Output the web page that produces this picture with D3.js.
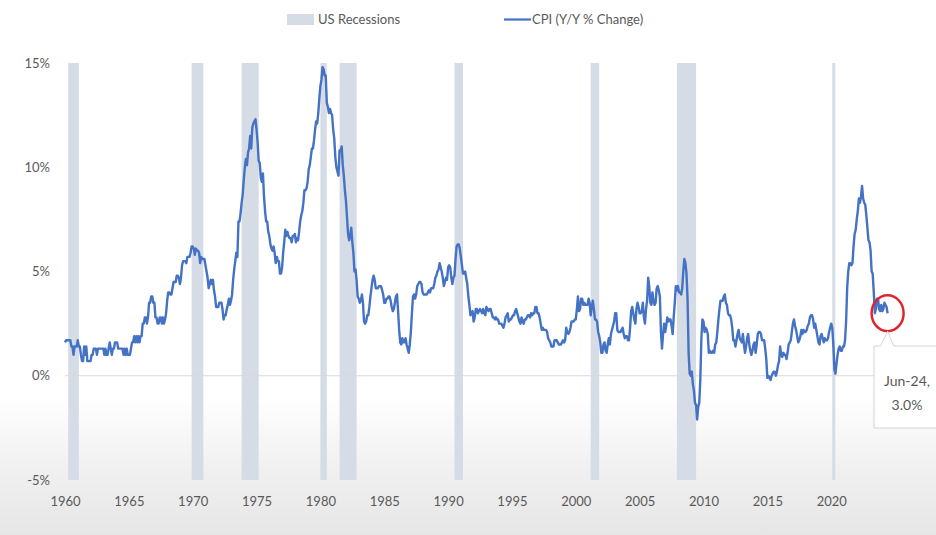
<!DOCTYPE html>
<html>
<head>
<meta charset="utf-8">
<script src="https://cdn.jsdelivr.net/npm/d3@7"></script>
<style>
  html, body { margin: 0; padding: 0; background: #fff; }
  svg { display: block; }
  text { font-family: Lato, "Open Sans", sans-serif; fill: #595959; }
</style>
</head>
<body>
<svg id="chart" width="936" height="535"></svg>
<script>
// US CPI, year-over-year % change, monthly (Jan 1960 onward), one array per decade
const cpi1960s = [
  1.6, 1.7, 1.7, 1.7, 1.7, 1.7, 1.4, 1.4, 1.0, 1.4, 1.4, 1.4,
  1.7, 1.4, 1.4, 1.0, 0.7, 0.7, 1.4, 1.0, 1.4, 0.7, 0.7, 0.7,
  0.7, 1.0, 1.0, 1.3, 1.3, 1.3, 1.0, 1.3, 1.3, 1.3, 1.3, 1.3,
  1.3, 1.0, 1.3, 1.0, 1.0, 1.3, 1.6, 1.3, 1.0, 1.3, 1.3, 1.6,
  1.6, 1.6, 1.3, 1.3, 1.3, 1.3, 1.3, 1.0, 1.3, 1.0, 1.3, 1.0,
  1.0, 1.0, 1.3, 1.6, 1.6, 1.9, 1.6, 1.9, 1.6, 1.9, 1.6, 1.9,
  1.9, 2.5, 2.5, 2.8, 2.8, 2.5, 2.8, 3.5, 3.5, 3.8, 3.8, 3.5,
  3.5, 2.8, 2.8, 2.5, 2.5, 2.8, 2.8, 2.5, 2.8, 2.5, 2.7, 3.0,
  3.6, 4.0, 4.0, 3.9, 3.9, 4.2, 4.5, 4.5, 4.5, 4.8, 4.8, 4.7,
  4.4, 4.7, 5.3, 5.5, 5.5, 5.5, 5.4, 5.7, 5.7, 5.7, 5.9, 6.2
];
const cpi1970s = [
  6.2, 6.1, 5.8, 6.1, 6.0, 6.0, 5.9, 5.4, 5.7, 5.6, 5.6, 5.6,
  5.3, 5.0, 4.7, 4.2, 4.4, 4.6, 4.4, 4.6, 4.1, 3.8, 3.3, 3.3,
  3.3, 3.5, 3.5, 3.5, 3.2, 2.7, 2.9, 2.9, 3.2, 3.4, 3.7, 3.4,
  3.6, 3.9, 4.6, 5.1, 5.5, 5.9, 5.7, 7.4, 7.4, 7.8, 8.3, 8.7,
  9.4, 10.0, 10.4, 10.1, 10.7, 10.9, 11.5, 10.9, 11.9, 12.1, 12.2, 12.3,
  11.8, 11.2, 10.3, 10.2, 9.5, 9.3, 9.7, 8.6, 7.9, 7.4, 7.4, 6.9,
  6.7, 6.3, 6.1, 6.0, 6.2, 5.9, 5.4, 5.7, 5.5, 5.5, 4.9, 4.9,
  5.2, 5.9, 6.4, 7.0, 6.7, 6.9, 6.7, 6.6, 6.6, 6.4, 6.7, 6.7,
  6.8, 6.4, 6.6, 6.5, 6.9, 7.4, 7.7, 7.9, 8.3, 8.9, 8.9, 9.0,
  9.3, 9.9, 10.1, 10.5, 10.9, 10.9, 11.3, 11.8, 12.2, 12.1, 12.6, 13.3
];
const cpi1980s = [
  13.9, 14.2, 14.8, 14.7, 14.4, 14.4, 13.1, 12.9, 12.6, 12.8, 12.6, 12.5,
  11.8, 11.4, 10.5, 10.0, 9.8, 9.6, 10.8, 10.8, 11.0, 10.1, 9.6, 8.9,
  8.4, 7.6, 6.8, 6.5, 6.7, 7.1, 6.4, 5.9, 5.0, 5.1, 4.6, 3.8,
  3.7, 3.5, 3.6, 3.9, 3.5, 2.6, 2.5, 2.6, 2.9, 2.9, 3.3, 3.8,
  4.2, 4.6, 4.8, 4.6, 4.2, 4.2, 4.2, 4.3, 4.3, 4.3, 4.1, 3.9,
  3.5, 3.5, 3.7, 3.7, 3.8, 3.8, 3.6, 3.3, 3.1, 3.2, 3.5, 3.8,
  3.9, 3.1, 2.2, 1.6, 1.5, 1.8, 1.6, 1.6, 1.8, 1.5, 1.3, 1.1,
  1.5, 2.1, 3.0, 3.8, 3.9, 3.7, 3.9, 4.3, 4.4, 4.5, 4.5, 4.4,
  4.0, 3.9, 3.9, 3.9, 3.9, 4.0, 4.1, 4.0, 4.2, 4.2, 4.2, 4.4,
  4.7, 4.8, 5.0, 5.1, 5.4, 5.2, 5.0, 4.7, 4.3, 4.5, 4.7, 4.6
];
const cpi1990s = [
  5.2, 5.3, 5.2, 4.7, 4.4, 4.7, 4.8, 5.6, 6.2, 6.3, 6.3, 6.1,
  5.7, 5.3, 4.9, 4.9, 5.0, 4.7, 4.4, 3.8, 3.4, 2.9, 3.0, 3.1,
  2.6, 2.8, 3.2, 3.2, 3.0, 3.1, 3.2, 3.1, 3.0, 3.2, 3.0, 2.9,
  3.3, 3.2, 3.1, 3.2, 3.2, 3.0, 2.8, 2.8, 2.7, 2.8, 2.7, 2.7,
  2.5, 2.5, 2.5, 2.4, 2.3, 2.5, 2.8, 2.9, 3.0, 2.6, 2.7, 2.7,
  2.8, 2.9, 2.9, 3.1, 3.2, 3.0, 2.8, 2.6, 2.5, 2.8, 2.6, 2.5,
  2.7, 2.7, 2.8, 2.9, 2.9, 2.8, 3.0, 2.9, 3.0, 3.0, 3.3, 3.3,
  3.0, 3.0, 2.8, 2.5, 2.2, 2.3, 2.2, 2.2, 2.2, 2.1, 1.8, 1.7,
  1.6, 1.4, 1.4, 1.4, 1.7, 1.7, 1.7, 1.6, 1.5, 1.5, 1.5, 1.6,
  1.7, 1.6, 1.7, 2.3, 2.1, 2.0, 2.1, 2.3, 2.6, 2.6, 2.6, 2.7
];
const cpi2000s = [
  2.7, 3.2, 3.8, 3.1, 3.2, 3.7, 3.7, 3.4, 3.5, 3.4, 3.4, 3.4,
  3.7, 3.5, 2.9, 3.3, 3.6, 3.2, 2.7, 2.7, 2.6, 2.1, 1.9, 1.6,
  1.1, 1.1, 1.5, 1.6, 1.2, 1.1, 1.5, 1.8, 1.5, 2.0, 2.2, 2.4,
  2.6, 3.0, 3.0, 2.2, 2.1, 2.1, 2.1, 2.2, 2.3, 2.0, 1.8, 1.9,
  1.9, 1.7, 1.7, 2.3, 3.1, 3.3, 3.0, 2.7, 2.5, 3.2, 3.5, 3.3,
  3.0, 3.0, 3.1, 3.5, 2.8, 2.5, 3.2, 3.6, 4.7, 4.3, 3.5, 3.4,
  4.0, 3.6, 3.4, 3.5, 4.2, 4.3, 4.1, 3.8, 2.1, 1.3, 2.0, 2.5,
  2.1, 2.4, 2.8, 2.6, 2.7, 2.7, 2.4, 2.0, 2.8, 3.5, 4.3, 4.1,
  4.3, 4.0, 4.0, 3.9, 4.2, 5.0, 5.6, 5.4, 4.9, 3.7, 1.1, 0.1,
  0.0, 0.2, -0.4, -0.7, -1.3, -1.4, -2.1, -1.5, -1.3, -0.2, 1.8, 2.7
];
const cpi2010s = [
  2.6, 2.1, 2.3, 2.2, 2.0, 1.1, 1.2, 1.1, 1.1, 1.2, 1.1, 1.5,
  1.6, 2.1, 2.7, 3.2, 3.6, 3.6, 3.6, 3.8, 3.9, 3.5, 3.4, 3.0,
  2.9, 2.9, 2.7, 2.3, 1.7, 1.7, 1.4, 1.7, 2.0, 2.2, 1.8, 1.7,
  1.6, 2.0, 1.5, 1.1, 1.4, 1.8, 2.0, 1.5, 1.2, 1.0, 1.2, 1.5,
  1.6, 1.1, 1.5, 2.0, 2.1, 2.1, 2.0, 1.7, 1.7, 1.7, 1.3, 0.8,
  -0.1, 0.0, -0.1, -0.2, 0.0, 0.1, 0.2, 0.2, 0.0, 0.2, 0.5, 0.7,
  1.4, 1.0, 0.9, 1.1, 1.0, 1.0, 0.8, 1.1, 1.5, 1.6, 1.7, 2.1,
  2.5, 2.7, 2.4, 2.2, 1.9, 1.6, 1.7, 1.9, 2.2, 2.0, 2.2, 2.1,
  2.1, 2.2, 2.4, 2.5, 2.8, 2.9, 2.9, 2.7, 2.3, 2.5, 2.2, 1.9,
  1.6, 1.5, 1.9, 2.0, 1.8, 1.6, 1.8, 1.7, 1.7, 1.8, 2.1, 2.3
];
const cpi2020s = [
  2.5, 2.3, 1.5, 0.3, 0.1, 0.6, 1.0, 1.3, 1.4, 1.2, 1.2, 1.4,
  1.4, 1.7, 2.6, 4.2, 5.0, 5.4, 5.4, 5.3, 5.4, 6.2, 6.8, 7.0,
  7.5, 7.9, 8.5, 8.3, 8.6, 9.1, 8.5, 8.3, 8.2, 7.7, 7.1, 6.5,
  6.4, 6.0, 5.0, 4.9, 4.0, 3.0, 3.2, 3.7, 3.7, 3.2, 3.1, 3.4,
  3.1, 3.2, 3.5, 3.4, 3.3, 3.0
];
const firstYear = 1960;

// NBER recessions as [start, end] in "year + month/12" form
const recessions = [
  [1960 + 3/12, 1961 + 1/12],
  [1969 + 11/12, 1970 + 10/12],
  [1973 + 10/12, 1975 + 2/12],
  [1980 + 0/12, 1980 + 6/12],
  [1981 + 6/12, 1982 + 10/12],
  [1990 + 6/12, 1991 + 2/12],
  [2001 + 2/12, 2001 + 10/12],
  [2007 + 11/12, 2009 + 5/12],
  [2020 + 1/12, 2020 + 3/12]
];

const yearTicks = [1960, 1965, 1970, 1975, 1980, 1985, 1990, 1995, 2000, 2005, 2010, 2015, 2020];
const pctTicks = [-5, 0, 5, 10, 15];
const legendLabels = ["US Recessions", "CPI (Y/Y % Change)"];
const calloutLabel = ["Jun-24,", "3.0%"];

const values = [].concat(cpi1960s, cpi1970s, cpi1980s, cpi1990s, cpi2000s, cpi2010s, cpi2020s);
const series = values.map((v, i) => ({ t: firstYear + i / 12, v }));
const last = series[series.length - 1];

const svg = d3.select("#chart");
const W = 936, H = 535;

// soft grey fade at the bottom of the canvas
const defs = svg.append("defs");
const grad = defs.append("linearGradient").attr("id", "bg").attr("x1", 0).attr("y1", 0).attr("x2", 0).attr("y2", 1);
grad.append("stop").attr("offset", "0%").attr("stop-color", "#ffffff");
grad.append("stop").attr("offset", "74%").attr("stop-color", "#ffffff");
grad.append("stop").attr("offset", "88%").attr("stop-color", "#f0f0f0");
grad.append("stop").attr("offset", "100%").attr("stop-color", "#e6e6e6");
svg.append("rect").attr("width", W).attr("height", H).attr("fill", "url(#bg)");

const x = d3.scaleLinear().domain([1960, 2024.8]).range([65, 892.5]);
const y = d3.scaleLinear().domain([-5, 15]).range([480, 63]);

// recession shading
svg.append("g").selectAll("rect").data(recessions).join("rect")
  .attr("x", d => x(d[0]))
  .attr("width", d => Math.max(3, x(d[1]) - x(d[0])))
  .attr("y", y(15))
  .attr("height", y(-5) - y(15))
  .attr("fill", "#d5dce6");

// zero line
svg.append("line")
  .attr("x1", x.range()[0]).attr("x2", x.range()[1])
  .attr("y1", y(0)).attr("y2", y(0))
  .attr("stroke", "#d9d9d9").attr("stroke-width", 1.2);

// y axis labels
const yAxis = d3.axisLeft(y).tickValues(pctTicks).tickFormat(d => d + "%").tickSize(0).tickPadding(0);
const gy = svg.append("g").attr("transform", "translate(50,0)").call(yAxis);
gy.select(".domain").remove();
gy.selectAll("text").style("font-family", "Lato, sans-serif").style("font-size", "13px").attr("fill", "#595959");

// x axis labels
const xAxis = d3.axisBottom(x).tickValues(yearTicks).tickFormat(d3.format("d")).tickSize(0).tickPadding(0);
const gx = svg.append("g").attr("transform", "translate(0,497)").call(xAxis);
gx.select(".domain").remove();
gx.selectAll("text").style("font-family", "Lato, sans-serif").style("font-size", "13px").attr("fill", "#595959");

// CPI line
svg.append("path")
  .datum(series)
  .attr("fill", "none")
  .attr("stroke", "#4472c4")
  .attr("stroke-width", 2.4)
  .attr("stroke-linejoin", "round")
  .attr("d", d3.line().x(d => x(d.t)).y(d => y(d.v)));

// highlight around the latest reading
const cx = x(last.t), cy = y(last.v);
svg.append("ellipse")
  .attr("cx", cx).attr("cy", cy)
  .attr("rx", 16).attr("ry", 18)
  .attr("fill", "none").attr("stroke", "#e0242b").attr("stroke-width", 2.5);

// data callout box with pointer
const bx = 874, by = 346, bw = 70, bh = 82;
svg.append("path")
  .attr("d", `M${bx},${by} L${cx - 7},${by} L${cx},${cy + 18} L${cx + 6},${by} L${bx + bw},${by} L${bx + bw},${by + bh} L${bx},${by + bh} Z`)
  .attr("fill", "#ffffff").attr("stroke", "#d4d4d4").attr("stroke-width", 1);
svg.append("g").selectAll("text").data(calloutLabel).join("text")
  .attr("x", 907).attr("y", (d, i) => 386 + i * 24)
  .attr("text-anchor", "middle")
  .style("font-size", "14px")
  .text(d => d);

// legend
const lg = svg.append("g");
lg.append("rect").attr("x", 287).attr("y", 14).attr("width", 27).attr("height", 11).attr("fill", "#d5dce6");
lg.append("text").attr("x", 318).attr("y", 24).style("font-size", "13px").text(legendLabels[0]);
lg.append("line").attr("x1", 504).attr("x2", 531).attr("y1", 19.5).attr("y2", 19.5)
  .attr("stroke", "#4472c4").attr("stroke-width", 2.2);
lg.append("text").attr("x", 532).attr("y", 24).style("font-size", "13px").text(legendLabels[1]);
</script>
</body>
</html>
